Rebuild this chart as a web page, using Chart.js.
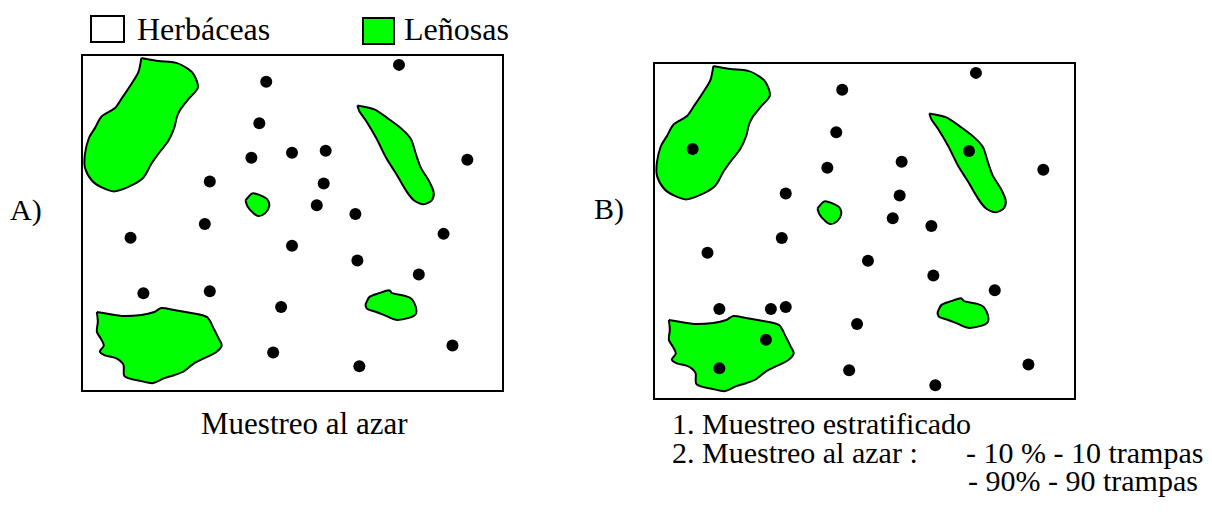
<!DOCTYPE html>
<html>
<head>
<meta charset="utf-8">
<script src="https://cdn.jsdelivr.net/npm/chart.js@4.4.1/dist/chart.umd.min.js"></script>
<style>
body{margin:0;background:#fff;width:1212px;height:514px;position:relative;overflow:hidden;font-family:"Liberation Serif","Times New Roman",serif;}
.t{position:absolute;font-size:30px;line-height:30px;color:#000;white-space:pre;}
.big{font-size:32px;line-height:32px;}
.key{position:absolute;box-sizing:border-box;border:2px solid #000;}
.plot{position:absolute;}
</style>
</head>
<body>

<div class="key" style="left:90px;top:15px;width:35px;height:28px;background:#fff"></div>
<div class="t big" style="left:137px;top:13px">Herbáceas</div>
<div class="key" style="left:362px;top:17px;width:33px;height:28px;background:#00ff00"></div>
<div class="t big" style="left:404px;top:13px">Leñosas</div>

<div class="t" style="left:10px;top:195px">A)</div>
<div class="t" style="left:594px;top:194px">B)</div>

<canvas id="panelA" class="plot" width="433" height="348" style="left:76px;top:49px"></canvas>
<canvas id="panelB" class="plot" width="433" height="348" style="left:648px;top:57px"></canvas>

<div class="t" style="left:201px;top:409px;font-size:31px">Muestreo al azar</div>
<div class="t" style="left:672px;top:409px">1. Muestreo estratificado</div>
<div class="t" style="left:672px;top:438px">2. Muestreo al azar :</div>
<div class="t" style="left:966px;top:438px">- 10 % - 10 trampas</div>
<div class="t" style="left:968px;top:466px">- 90% - 90 trampas</div>

<script>
// plot units: 0-425 across, 0-340 down (y grows downward like the picture)

// traps, A) random sampling
var randomX = [320,186,179,171,212,246,389,129,244,237,276,124,49,365,212,278,340,62,129,201,193,280,374];
var randomY = [10,27,69,104,99,97,106,128,130,152,161,171,185,181,193,208,222,241,239,255,301,315,294];

// traps, B) stratified sampling
var stratX = [325,190,39,184,318,175,250,393,133,248,241,280,129,54,216,282,344,66,118,133,205,113,66,197,378,284];
var stratY = [10,27,87,70,89,106,100,108,132,134,157,165,177,192,200,215,230,249,249,247,264,280,309,311,305,326];

// woody patches (Leñosas), same in both panels, outline as x,y pairs
var patchTopLeft = [60,3, 77,6, 95,8, 107,14, 113,20, 117,33, 108,44, 100,54, 96,62, 93,74, 87,87, 77,100,
  70,110, 62,124, 50,132, 33,138, 20,134, 10,127, 3,114, 3,100, 7,84, 13,74, 20,62, 33,54, 40,44, 50,29, 57,17];
var patchDiagonal = [278,51, 295,55, 310,65, 323,75, 332,85, 337,100, 342,114, 350,127, 355,139, 353,147,
  345,151, 335,147, 327,137, 317,120, 307,104, 297,84, 287,67, 280,57];
var patchSmall = [165,147, 172,140, 180,142, 187,146, 189,153, 185,160, 178,163, 172,159, 167,153];
var patchRight = [286,253, 290,245, 300,241, 310,238, 313,241, 327,244, 333,247, 337,255, 337,262, 330,266,
  317,268, 307,264, 297,260, 288,257];
var patchBottomLeft = [15,260, 40,264, 60,263, 73,260, 80,256, 93,258, 110,261, 126,265, 133,277, 138,287,
  141,294, 135,301, 123,307, 113,312, 103,320, 93,324, 83,327, 72,332, 60,330, 43,325, 42,314, 38,309,
  32,306, 23,304, 18,300, 22,294, 19,287, 15,280, 16,270];

var patches = [patchTopLeft, patchDiagonal, patchSmall, patchRight, patchBottomLeft];

function toPoints(flat){
    var pts = [];
    for(var i = 0; i < flat.length; i += 2){
        pts.push({x: flat[i], y: flat[i+1]});
    }
    pts.push({x: flat[0], y: flat[1]}); // close the outline
    return pts;
}

var frameBorder = {
    id: 'frameBorder',
    afterDraw: function(chart){
        var a = chart.chartArea;
        var ctx = chart.ctx;
        ctx.save();
        ctx.strokeStyle = '#000';
        ctx.lineWidth = 2;
        ctx.strokeRect(a.left, a.top, a.right - a.left, a.bottom - a.top);
        ctx.restore();
    }
};

function panelConfig(xs, ys){
    var datasets = [{
        data: xs.map(function(x, i){ return {x: x, y: ys[i]}; }),
        pointRadius: 6,
        pointBackgroundColor: '#000',
        pointBorderWidth: 0,
        order: 0
    }];
    patches.forEach(function(p){
        datasets.push({
            data: toPoints(p),
            showLine: true,
            fill: 'shape',
            backgroundColor: '#00ff00',
            borderColor: '#000',
            borderWidth: 2,
            tension: 0.3,
            pointRadius: 0,
            order: 1
        });
    });
    return {
        type: 'scatter',
        data: {datasets: datasets},
        options: {
            responsive: false,
            animation: false,
            layout: {padding: 4},
            plugins: {legend: {display: false}, tooltip: {enabled: false}},
            scales: {
                x: {min: 0, max: 425, display: false},
                y: {min: 0, max: 340, reverse: true, display: false}
            }
        },
        plugins: [frameBorder]
    };
}

new Chart(document.getElementById('panelA').getContext('2d'), panelConfig(randomX, randomY));
new Chart(document.getElementById('panelB').getContext('2d'), panelConfig(stratX, stratY));
</script>
</body>
</html>
